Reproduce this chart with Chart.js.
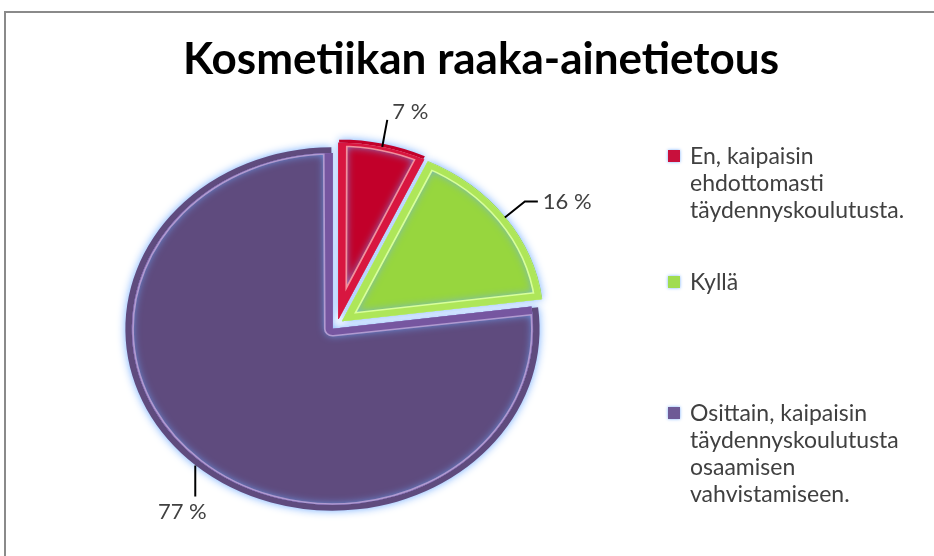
<!DOCTYPE html>
<html>
<head>
<meta charset="utf-8">
<script src="https://cdn.jsdelivr.net/npm/chart.js@4.4.1/dist/chart.umd.min.js"></script>
<style>
  html, body { margin: 0; padding: 0; background: #fff; }
  canvas { display: block; }
</style>
</head>
<body>
<canvas id="chart" width="934" height="556"></canvas>
<script>
const TITLE = 'Kosmetiikan raaka-ainetietous';
const CATEGORIES = [
    ['En, kaipaisin', 'ehdottomasti', 'täydennyskoulutusta.'],
    ['Kyllä'],
    ['Osittain, kaipaisin', 'täydennyskoulutusta', 'osaamisen', 'vahvistamiseen.'],
];
const VALUES = [7, 16, 77];
const PERCENT_LABELS = ['7 %', '16 %', '77 %'];

const FILL = ['#c2002a', '#97d63e', '#5f4b7e'];
const BAND = ['#d81640', '#aee659', '#7656a0'];
const EDGE = ['#f2909c', '#d8ff9a', '#b09ad0'];
const LEGEND_COLORS = ['#c8103c', '#a0dc50', '#6e5a96'];

const FONT = 'Lato, "DejaVu Sans", sans-serif';
const STRETCH_X = 1.14; // pie in the original is a bit wider than tall

// pie is drawn by Chart.js, only squeezed into an ellipse
const ellipse = {
    id: 'ellipse',
    beforeDatasetsDraw(chart) {
        const arc = chart.getDatasetMeta(0).data[0];
        const ctx = chart.ctx;
        ctx.save();
        ctx.translate(arc.x, arc.y);
        ctx.scale(STRETCH_X, 1);
        ctx.translate(-arc.x, -arc.y);
        ctx.shadowColor = 'rgba(110, 170, 255, 0.95)';
        ctx.shadowBlur = 9;
    },
    afterDatasetsDraw(chart) {
        const ctx = chart.ctx;
        ctx.shadowColor = 'rgba(0,0,0,0)';
        ctx.shadowBlur = 0;
        // thin light line just inside the edge band
        chart.getDatasetMeta(0).data.forEach((arc, i) => {
            const saved = arc.options;
            arc.options = Object.assign({}, saved, {backgroundColor: 'rgba(0,0,0,0)', borderColor: EDGE[i], borderWidth: 7.5});
            arc.draw(ctx);
            arc.options = Object.assign({}, saved, {backgroundColor: 'rgba(0,0,0,0)'});
            arc.draw(ctx);
            arc.options = saved;
        });
        ctx.restore();
    }
};

const decor = {
    id: 'decor',
    beforeDraw(chart) {
        const ctx = chart.ctx;
        ctx.save();
        ctx.strokeStyle = '#8a8a8a';
        ctx.lineWidth = 2;
        ctx.strokeRect(5, 12, 1000, 600);
        ctx.fillStyle = '#000';
        ctx.font = 'bold 44px ' + FONT;
        ctx.textAlign = 'center';
        ctx.textBaseline = 'alphabetic';
        ctx.fillText(TITLE, 481, 74);
        ctx.restore();
    },
    afterDraw(chart, args, opts) {
        const ctx = chart.ctx;
        const meta = chart.getDatasetMeta(0);
        ctx.save();
        // percentage labels with leader lines
        meta.data.forEach((arc, i) => {
            const spec = opts.leaders[i];
            const a = (arc.startAngle + arc.endAngle) / 2;
            const shift = (arc.options.offset || 0) / 4;
            const r = arc.outerRadius + shift * (arc.endAngle - arc.startAngle > Math.PI ? 1 : 0);
            let x = arc.x + (Math.cos(a) * (r + shift)) * STRETCH_X;
            let y = arc.y + Math.sin(a) * (r + shift);
            ctx.strokeStyle = '#000';
            ctx.lineWidth = 2;
            ctx.beginPath();
            ctx.moveTo(x, y);
            spec.path.forEach(([dx, dy]) => { x += dx; y += dy; ctx.lineTo(x, y); });
            ctx.stroke();
            ctx.fillStyle = '#404040';
            ctx.font = '22px ' + FONT;
            ctx.textAlign = spec.align;
            ctx.textBaseline = 'alphabetic';
            ctx.fillText(PERCENT_LABELS[i], x + spec.tx, y + spec.ty);
        });
        // legend
        CATEGORIES.forEach((lines, i) => {
            const top = opts.legendTops[i];
            ctx.save();
            ctx.shadowColor = 'rgba(110, 170, 255, 0.9)';
            ctx.shadowBlur = 3;
            ctx.fillStyle = LEGEND_COLORS[i];
            ctx.fillRect(opts.legendX, top - 14, 12, 12);
            ctx.restore();
            ctx.fillStyle = '#404040';
            ctx.font = '23px ' + FONT;
            ctx.textAlign = 'left';
            ctx.textBaseline = 'alphabetic';
            lines.forEach((line, k) => {
                ctx.fillText(line, opts.legendX + 22, top + k * 27);
            });
        });
        ctx.restore();
    }
};

new Chart(document.getElementById('chart'), {
    type: 'pie',
    data: {
        labels: CATEGORIES.map(l => l.join(' ')),
        datasets: [{
            data: VALUES,
            backgroundColor: FILL,
            borderColor: BAND,
            borderWidth: 6,
            borderAlign: 'inner',
            offset: 24,
            radius: 176,
            clip: false,
        }]
    },
    options: {
        responsive: false,
        animation: false,
        events: [],
        layout: { padding: { left: 137, right: 397, top: 130, bottom: 37 } },
        plugins: {
            legend: { display: false },
            title: { display: false },
            tooltip: { enabled: false },
            decor: {
                leaders: [
                    { path: [[5, -27]], tx: 5, ty: -1, align: 'left' },
                    { path: [[20, -16], [13, 0]], tx: 5, ty: 7, align: 'left' },
                    { path: [[0, 31]], tx: -13, ty: 22, align: 'center' },
                ],
                legendX: 668,
                legendTops: [164, 290, 421],
            }
        }
    },
    plugins: [ellipse, decor]
});
</script>
</body>
</html>
